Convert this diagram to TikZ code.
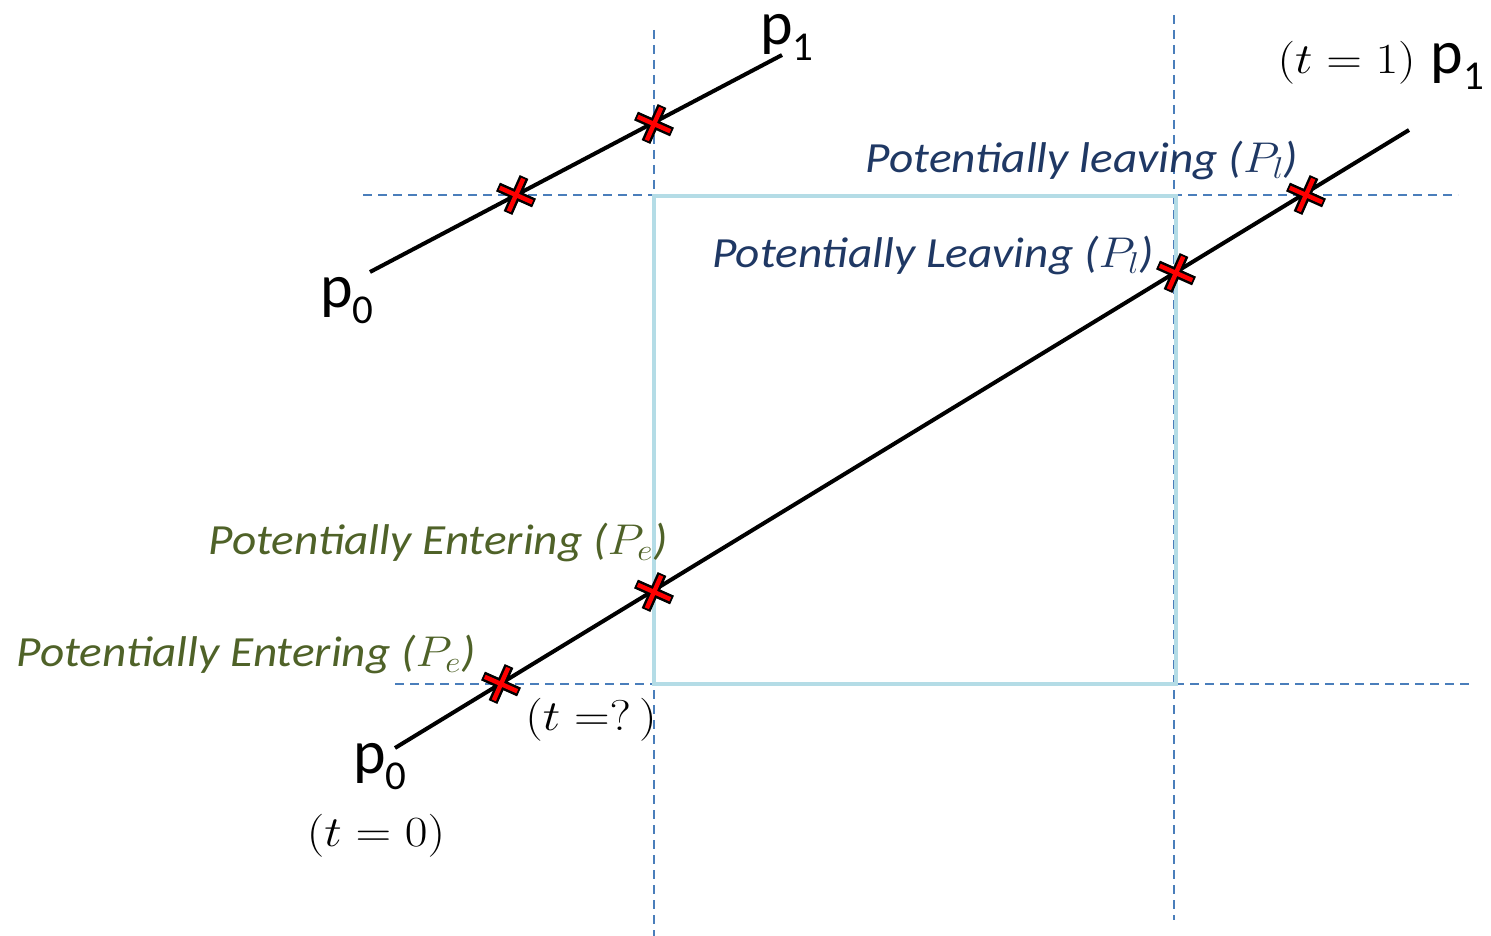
\RequirePackage{fix-cm}
\documentclass[tikz,border=0pt]{standalone}
\usepackage{fontspec}
\setmainfont{Carlito}
\usetikzlibrary{calc}
\definecolor{dashblue}{HTML}{4A7EBB}
\definecolor{boxblue}{HTML}{B4DCE6}
\definecolor{leavecol}{HTML}{1F3864}
\definecolor{entercol}{HTML}{4F6228}
\newcommand{\wide}[1]{\scalebox{1.1}[1]{#1}}
\newcommand{\mwide}[1]{\scalebox{1.15}[1]{#1}}
\newcommand{\pnt}[1]{{\fontsize{62}{70}\selectfont p\raisebox{-16pt}{\fontsize{41}{48}\selectfont #1}}}
\tikzset{
  guide/.style={dashblue,line width=1.6pt,dash pattern=on 9pt off 6pt},
  seg/.style={black,line width=4pt},
  lbl/.style={inner sep=0pt,font=\fontsize{43}{50}\selectfont\itshape},
  plbl/.style={inner sep=0pt},
  tlbl/.style={inner sep=0pt,font=\fontsize{43}{50}\selectfont},
  xmark/.pic={
    \draw[black,line width=9.5pt] (-18,-8)--(18,8) (8,-18)--(-8,18);
    \draw[red,line width=4.5pt] (-16.3,-7.2)--(16.3,7.2) (7.2,-16.3)--(-7.2,16.3);
  }
}
\begin{document}
\begin{tikzpicture}[x=1pt,y=-1pt]
\useasboundingbox (0,0) rectangle (1491,936);
% guide coordinates
\coordinate (v1t) at (654,30);
\coordinate (v1b) at (654,936);
\coordinate (v2t) at (1174,15);
\coordinate (v2b) at (1174,920);
\coordinate (h1l) at (363,195);
\coordinate (h1r) at (1458,195);
\coordinate (h2l) at (395,684);
\coordinate (h2r) at (1473,684);
\draw[guide] (v1t) -- (v1b);
\draw[guide] (v2t) -- (v2b);
\draw[guide] (h1l) -- (h1r);
\draw[guide] (h2l) -- (h2r);
% window
\coordinate (wtl) at (654,196);
\coordinate (wbr) at (1176,684);
\draw[boxblue,line width=4pt] (wtl) rectangle (wbr);
% segments
\coordinate (a0) at (370,272);
\coordinate (a1) at (782,55);
\coordinate (b0) at (395,748);
\coordinate (b1) at (1409,130);
\draw[seg] (a0) -- (a1);
\draw[seg] (b0) -- (b1);
% intersections
\coordinate (xa1) at (516,195);
\coordinate (xa2) at (654,124);
\coordinate (xb1) at (501,684);
\coordinate (xb2) at (654,592);
\coordinate (xb3) at (1176,273);
\coordinate (xb4) at (1306,195);
\foreach \c in {xa1,xa2,xb1,xb2,xb3,xb4} \pic at (\c) {xmark};
% labels
\node[plbl,anchor=base west] (lp0a) at (320,307) {\pnt{0}};
\node[plbl,anchor=base west] (lp1a) at (760,45) {\pnt{1}};
\node[plbl,anchor=base west] (lp0b) at (353,773) {\pnt{0}};
\node[plbl,anchor=base east] (lp1b) at (1484,74) {\pnt{1}};
\node[tlbl,anchor=base east] (lt1) at (1416,74) {\mwide{$(t=1)$}};
\node[tlbl] (lt0) at (376,836) {\mwide{$(t=0)$}};
\node[tlbl] (ltq) at (591,720) {\mwide{$(t\;{=}?\,)$}};
\node[lbl,text=leavecol] (ll1) at (1082,160) {\wide{Potentially leaving ($P_l$)}};
\node[lbl,text=leavecol] (ll2) at (933,255) {\wide{Potentially Leaving ($P_l$)}};
\node[lbl,text=entercol] (le1) at (438,542) {\wide{Potentially Entering ($P_e$)}};
\node[lbl,text=entercol] (le2) at (246,654) {\wide{Potentially Entering ($P_e$)}};
\end{tikzpicture}
\end{document}
